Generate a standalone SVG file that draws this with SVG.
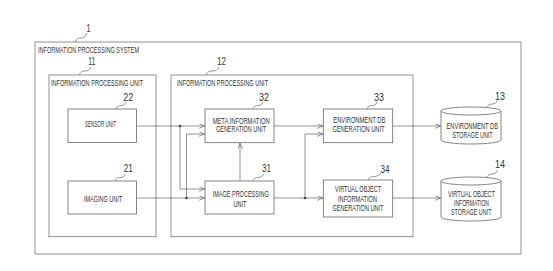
<svg xmlns="http://www.w3.org/2000/svg" width="553" height="271" viewBox="0 0 553 271">
<style>
.box{fill:#fff;stroke:#666;stroke-width:0.8}
.frame{fill:none;stroke:#777;stroke-width:0.8}
.t{font-family:"Liberation Sans",Arial,sans-serif;font-size:9px;fill:#333}
.n{font-family:"Liberation Sans",Arial,sans-serif;font-size:11px;fill:#333;text-anchor:middle}
.lead{fill:none;stroke:#666;stroke-width:0.7}
.c{fill:none;stroke:#666;stroke-width:0.7}
.dot{fill:#444}
</style>
<defs>
<marker id="ah" markerWidth="7" markerHeight="6" refX="6" refY="2.5" orient="auto" markerUnits="userSpaceOnUse">
<path d="M0,0 L6,2.5 L0,5" fill="none" stroke="#666" stroke-width="0.7"/>
</marker>
</defs>
<rect width="553" height="271" fill="#fff"/>

<g id="system">
<rect class="frame" x="35" y="42" width="486" height="212"/>
<text class="t" x="38" y="52.7" textLength="101" lengthAdjust="spacingAndGlyphs">INFORMATION PROCESSING SYSTEM</text>
<text class="n" x="88.5" y="32" textLength="4" lengthAdjust="spacingAndGlyphs">1</text>
<path class="lead" d="M75,42 c2,-4 4,-4 6,-4 c3,0 4,-1 6,-5"/>
</g>

<g id="unit11">
<rect class="frame" x="49" y="75" width="107" height="161.7"/>
<text class="t" transform="translate(51,85.5) scale(0.617,1)" x="0" y="0" textLength="149" lengthAdjust="spacingAndGlyphs">INFORMATION PROCESSING UNIT</text>
<text class="n" x="91.7" y="65.3" textLength="7" lengthAdjust="spacingAndGlyphs">11</text>
<path class="lead" d="M79,75 c2,-4 4,-4 6,-4 c3,0 4,-1 6,-4"/>
</g>

<g id="unit12">
<rect class="frame" x="171" y="75" width="242" height="161.7"/>
<text class="t" transform="translate(177,85.5) scale(0.611,1)" x="0" y="0" textLength="149" lengthAdjust="spacingAndGlyphs">INFORMATION PROCESSING UNIT</text>
<text class="n" x="221.5" y="65.3" textLength="9" lengthAdjust="spacingAndGlyphs">12</text>
<path class="lead" d="M206,75 c2,-4 4,-4 7,-4 c3,0 4,-1 6,-4"/>
</g>

<g id="sensor22">
<rect class="box" x="68" y="109" width="68.5" height="33.5"/>
<text class="t" x="85" y="127.3" textLength="31" lengthAdjust="spacingAndGlyphs">SENSOR UNIT</text>
<text class="n" x="128.3" y="101.3" textLength="10" lengthAdjust="spacingAndGlyphs">22</text>
<path class="lead" d="M116,109 c2,-4 3,-3 5,-3.5 c3,0 4,-1 5,-3.5"/>
</g>

<g id="imaging21">
<rect class="box" x="68" y="181" width="68.5" height="33"/>
<text class="t" x="84" y="201.8" textLength="38" lengthAdjust="spacingAndGlyphs">IMAGING UNIT</text>
<text class="n" x="128.3" y="171.8" textLength="9" lengthAdjust="spacingAndGlyphs">21</text>
<path class="lead" d="M115,181 c2,-4 3,-3 5,-3.5 c3,0 4,-1 5,-3.5"/>
</g>

<g id="meta32">
<rect class="box" x="205" y="109" width="69" height="33.7"/>
<text class="t" x="212.7" y="123.5" textLength="57" lengthAdjust="spacingAndGlyphs">META INFORMATION</text>
<text class="t" x="216" y="132" textLength="50" lengthAdjust="spacingAndGlyphs">GENERATION UNIT</text>
<text class="n" x="264" y="101.3" textLength="10" lengthAdjust="spacingAndGlyphs">32</text>
<path class="lead" d="M253,109 c2,-4 3,-3 5,-3.5 c3,0 4,-1 5,-3.5"/>
</g>

<g id="image31">
<rect class="box" x="205" y="181" width="69" height="33"/>
<text class="t" x="212.7" y="197" textLength="56" lengthAdjust="spacingAndGlyphs">IMAGE PROCESSING</text>
<text class="t" x="233.5" y="206.8" textLength="13" lengthAdjust="spacingAndGlyphs">UNIT</text>
<text class="n" x="266.5" y="171.8" textLength="9" lengthAdjust="spacingAndGlyphs">31</text>
<path class="lead" d="M253,181 c2,-4 3,-3 5,-3.5 c3,0 4,-1 6,-3.5"/>
</g>

<g id="envgen33">
<rect class="box" x="323.3" y="109" width="69.4" height="33.7"/>
<text class="t" x="333.3" y="123" textLength="52" lengthAdjust="spacingAndGlyphs">ENVIRONMENT DB</text>
<text class="t" x="332.5" y="131.8" textLength="52" lengthAdjust="spacingAndGlyphs">GENERATION UNIT</text>
<text class="n" x="379" y="101.3" textLength="10" lengthAdjust="spacingAndGlyphs">33</text>
<path class="lead" d="M367,109 c2,-4 3,-3 5,-3.5 c3,0 4,-1 5,-3.5"/>
</g>

<g id="virtual34">
<rect class="box" x="323.3" y="180" width="69.4" height="37"/>
<text class="t" x="335" y="192" textLength="46" lengthAdjust="spacingAndGlyphs">VIRTUAL OBJECT</text>
<text class="t" x="338" y="201.5" textLength="39" lengthAdjust="spacingAndGlyphs">INFORMATION</text>
<text class="t" x="332.5" y="211.3" textLength="51" lengthAdjust="spacingAndGlyphs">GENERATION UNIT</text>
<text class="n" x="385" y="172.8" textLength="9" lengthAdjust="spacingAndGlyphs">34</text>
<path class="lead" d="M368,180 c2,-4 4,-3 6,-3.5 c3,0 5,-1 7,-3.5"/>
</g>

<g id="envdb13">
<path class="box" d="M441,111 A30,4 0 0 1 501,111 V140 A30,4 0 0 1 441,140 Z"/>
<path class="box" d="M441,111 A30,4 0 0 0 501,111" fill="none"/>
<text class="t" x="446.5" y="129.3" textLength="51.5" lengthAdjust="spacingAndGlyphs">ENVIRONMENT DB</text>
<text class="t" x="452.5" y="138" textLength="40" lengthAdjust="spacingAndGlyphs">STORAGE UNIT</text>
<text class="n" x="500" y="99.6" textLength="10" lengthAdjust="spacingAndGlyphs">13</text>
<path class="lead" d="M487,107.5 c2,-4 3,-3 5,-3.5 c3,0 4,-1 5,-3.5"/>
</g>

<g id="vobj14">
<path class="box" d="M441,181 A30,4 0 0 1 501,181 V217 A30,4 0 0 1 441,217 Z"/>
<path class="box" d="M441,181 A30,4 0 0 0 501,181" fill="none"/>
<text class="t" x="448" y="196.8" textLength="47" lengthAdjust="spacingAndGlyphs">VIRTUAL OBJECT</text>
<text class="t" x="454" y="205.8" textLength="35" lengthAdjust="spacingAndGlyphs">INFORMATION</text>
<text class="t" x="451" y="215.3" textLength="40.5" lengthAdjust="spacingAndGlyphs">STORAGE UNIT</text>
<text class="n" x="500" y="167.8" textLength="10" lengthAdjust="spacingAndGlyphs">14</text>
<path class="lead" d="M487,177.5 c2,-4 3,-3 5,-3.5 c3,0 4,-1 5,-3.5"/>
</g>

<g id="connectors">
<path class="c" d="M136.5,126 H204.5" marker-end="url(#ah)"/>
<path class="c" d="M180,126 V189 H204.5" marker-end="url(#ah)"/>
<path class="c" d="M136.5,198 H204.5" marker-end="url(#ah)"/>
<path class="c" d="M186.5,198 V134 H204.5" marker-end="url(#ah)"/>
<path class="c" d="M240,181 V143.2" marker-end="url(#ah)"/>
<path class="c" d="M274,126 H322.8" marker-end="url(#ah)"/>
<path class="c" d="M274,198 H322.8" marker-end="url(#ah)"/>
<path class="c" d="M305,198 V134 H322.8" marker-end="url(#ah)"/>
<path class="c" d="M392.7,126 H440.5" marker-end="url(#ah)"/>
<path class="c" d="M392.7,198 H440.5" marker-end="url(#ah)"/>
<circle class="dot" cx="180" cy="126" r="1.3"/>
<circle class="dot" cx="186.5" cy="198" r="1.3"/>
<circle class="dot" cx="305" cy="198" r="1.3"/>
</g>
</svg>
